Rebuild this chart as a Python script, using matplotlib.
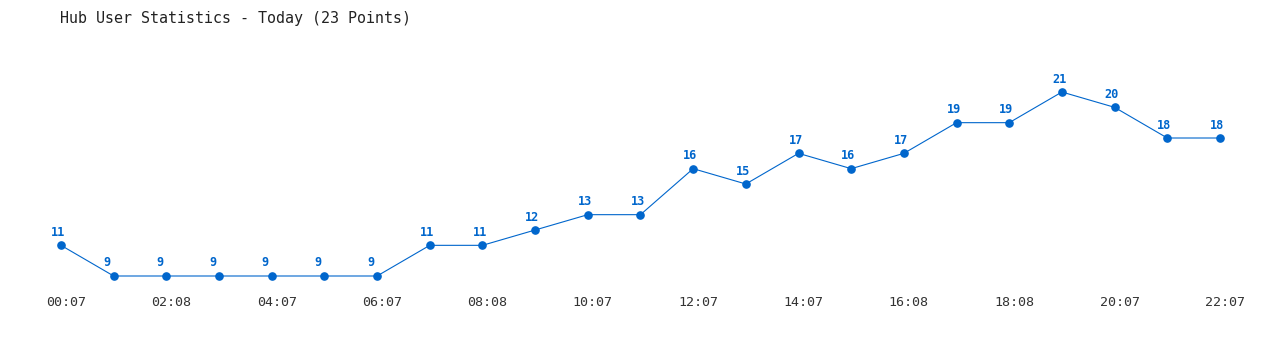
import matplotlib
matplotlib.use('Agg')
import matplotlib.pyplot as plt
from matplotlib.transforms import ScaledTranslation

users = [11, 9, 9, 9, 9, 9, 9, 11, 11, 12, 13, 13, 16, 15, 17, 16, 17, 19, 19, 21, 20, 18, 18]
tick_labels = ['00:07', '02:08', '04:07', '06:07', '08:08', '10:07',
               '12:07', '14:07', '16:08', '18:08', '20:07', '22:07']
title = 'Hub User Statistics - Today (23 Points)'

blue = '#0066cc'
mono = ['DejaVu Sans Mono']

fig = plt.figure(figsize=(12.8, 3.5), dpi=100)
ax = fig.add_axes([0, 58 / 350, 1, 292 / 350])

x = list(range(len(users)))
ax.plot(x, users, color=blue, lw=0.8, marker='o', ms=5.2, zorder=3)
# value labels sit a bit left of each point, like the original
for xi, v in zip(x, users):
    ax.annotate(str(v), (xi, v), xytext=(-10, 13), textcoords='offset pixels',
                ha='left', va='center', color=blue, fontsize=8.6,
                fontweight='bold', family=mono)

ax.set_xlim(-61 / 52.68, (1280 - 61) / 52.68)
ax.set_ylim(9 - 16 / 15.333, 9 + 276 / 15.333)
ax.set_xticks(x[::2])
ax.set_xticklabels(tick_labels, family=mono, fontsize=9.6, color='#333333')
ax.tick_params(axis='x', length=0, pad=3)
shift = ScaledTranslation(5 / 100, 0, fig.dpi_scale_trans)
for lbl in ax.get_xticklabels():
    lbl.set_transform(lbl.get_transform() + shift)
ax.set_yticks([])
for s in ax.spines.values():
    s.set_visible(False)

fig.text(60 / 1280, 1 - 18 / 350, title, family=mono, fontsize=10.8,
         color='#222222', ha='left', va='center')

fig.savefig('out.png', dpi=100)
